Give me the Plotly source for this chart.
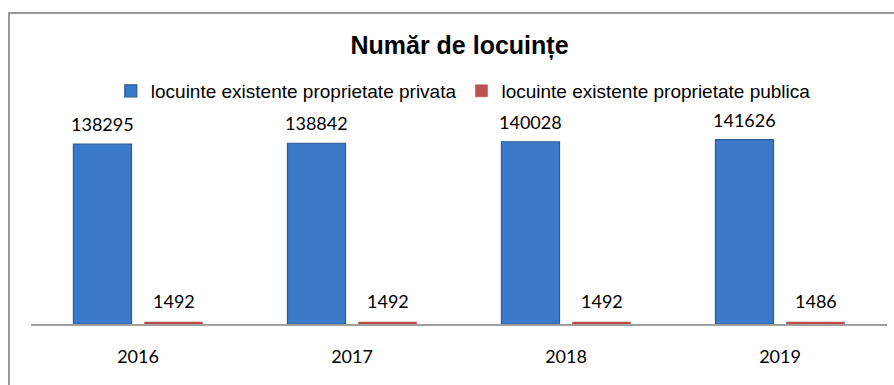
import plotly.graph_objects as go

years = ["2016", "2017", "2018", "2019"]
privata = [138295, 138842, 140028, 141626]
publica = [1492, 1492, 1492, 1486]
series_names = ["locuinte existente proprietate privata",
                "locuinte existente proprietate publica"]

label_font = dict(family="Lato, Open Sans, sans-serif", size=18, color="#000000")

fig = go.Figure()
fig.add_trace(go.Bar(
    x=years, y=privata, name=series_names[0],
    marker=dict(color="#3b79c9", line=dict(color="#2a5a98", width=1.2)),
))
fig.add_trace(go.Bar(
    x=years, y=publica, name=series_names[1],
    marker=dict(color="#c0504d", line=dict(color="#b04542", width=0.5)),
))

# value labels above each bar; on a category axis the position is the category index,
# grouped bars sit half a slot left/right of it
annotations = []
for i, v in enumerate(privata):
    annotations.append(dict(x=i, y=v, text=str(v), xref="x", yref="y",
                            showarrow=False, yanchor="bottom", xshift=-35.5,
                            yshift=7, font=label_font))
for i, v in enumerate(publica):
    annotations.append(dict(x=i, y=v, text=str(v), xref="x", yref="y",
                            showarrow=False, yanchor="bottom", xshift=35.5,
                            yshift=8, font=label_font))

fig.update_layout(
    width=894, height=385,
    margin=dict(l=31, r=7, t=110, b=61),
    paper_bgcolor="white", plot_bgcolor="white",
    barmode="group", bargap=0.336, bargroupgap=0.183,
    title=dict(text="<b>Număr de locuințe</b>", x=0.514, xanchor="center",
               y=0.883, yanchor="middle",
               font=dict(family="Liberation Sans Narrow, Arial, sans-serif",
                         size=25, color="#000000")),
    legend=dict(orientation="h", x=0.505, xanchor="center", y=1.089,
                yanchor="middle",
                font=dict(family="Liberation Sans, Arial, sans-serif",
                          size=19, color="#000000"),
                itemwidth=30, tracegroupgap=0, bgcolor="rgba(0,0,0,0)"),
    xaxis=dict(type="category", range=[-0.5, 3.5], showline=True,
               linecolor="#a0a0a0", linewidth=1.5, showgrid=False, ticks="",
               tickfont=label_font, ticklabelstandoff=16, fixedrange=True),
    yaxis=dict(range=[0, 164400], visible=False, showgrid=False,
               fixedrange=True),
    annotations=annotations,
    showlegend=True,
)

# outer frame of the chart area
fig.add_shape(type="rect", xref="paper", yref="paper",
              x0=(9 - 31) / 856, x1=1.1, y0=-0.5, y1=(324 - 13) / 214,
              line=dict(color="#9a9a9a", width=2), layer="below")

fig.write_html("out.html")
